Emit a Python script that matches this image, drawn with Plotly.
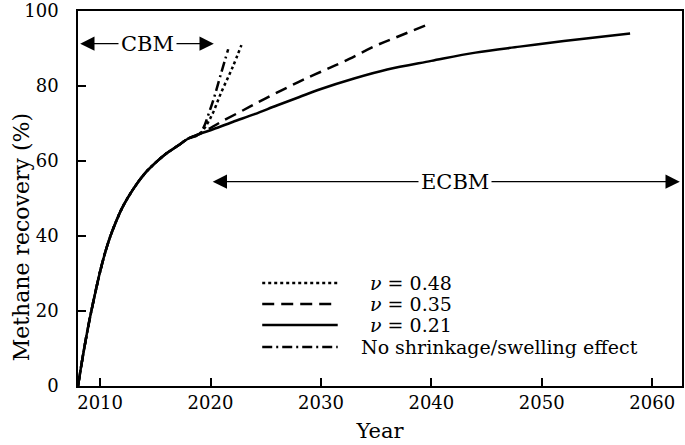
import plotly.graph_objects as go

# shared early production curve (all cases overlap up to ~2019)
base_years = [2008, 2008.5, 2009, 2009.5, 2010, 2010.5, 2011, 2012, 2013, 2014, 2015, 2016, 2017, 2018, 2019]
base_rec = [0, 9, 17, 24, 30.5, 36, 40.5, 47.5, 52.5, 56.5, 59.5, 62, 64, 66, 67.2]

# nu = 0.21 (solid)
yrs_021 = [2020, 2022, 2024, 2026, 2028, 2030, 2033, 2036, 2040, 2044, 2048, 2052, 2055, 2058]
rec_021 = [68.2, 70.4, 72.5, 74.8, 77, 79.2, 82, 84.4, 86.7, 88.9, 90.5, 92, 93, 94]

# nu = 0.35 (dashed)
yrs_035 = [2020, 2021, 2023, 2025, 2028, 2030, 2032, 2035, 2037, 2039.6]
rec_035 = [68.8, 70.5, 73.6, 76.7, 81.1, 83.8, 86.4, 90.8, 93.2, 96.3]

# nu = 0.48 (dotted)
yrs_048 = [2020, 2021, 2022, 2022.8]
rec_048 = [71.5, 78.5, 85, 90.9]

# no shrinkage/swelling (dash-dot)
yrs_nss = [2020, 2021, 2021.6]
rec_nss = [74, 83.8, 89.8]

series = [
    ("ν = 0.48", yrs_048, rec_048, "dot"),
    ("ν = 0.35", yrs_035, rec_035, "12px,7px"),
    ("ν = 0.21", yrs_021, rec_021, "solid"),
    ("No shrinkage/swelling effect", yrs_nss, rec_nss, "10px,4px,2px,4px"),
]

FONT = "DejaVu Serif"

fig = go.Figure()
for name, yy, rr, dash in series:
    fig.add_trace(go.Scatter(x=base_years + yy, y=base_rec + rr, mode="lines", name=name,
                             line=dict(color="black", width=2.5, dash=dash),
                             line_shape="spline", showlegend=False))

# hand-made legend (long line samples like the original)
leg_y = [0.275, 0.219, 0.163, 0.104]
labels = ["<i>ν</i> = 0.48", "<i>ν</i> = 0.35", "<i>ν</i> = 0.21", "No shrinkage/swelling effect"]
for (name, yy, rr, dash), ly, lab in zip(series, leg_y, labels):
    fig.add_shape(type="line", xref="paper", yref="paper", x0=0.305, x1=0.43, y0=ly, y1=ly,
                  line=dict(color="black", width=2.5, dash=dash))
    fig.add_annotation(xref="paper", yref="paper", x=0.48 if lab.startswith("<i>") else 0.466,
                       y=ly, text=lab, showarrow=False, xanchor="left", yanchor="middle",
                       font=dict(size=19, color="black", family=FONT))

# CBM / ECBM double arrows
def double_arrow(x_left, x_right, x_mid, y, label):
    for xe in (x_left, x_right):
        fig.add_annotation(x=xe, y=y, ax=x_mid, ay=y, axref="x", ayref="y", xref="x", yref="y",
                           text="", showarrow=True, arrowhead=2, arrowsize=2.2, arrowwidth=1.3,
                           arrowcolor="black")
    fig.add_annotation(x=x_mid, y=y, text=label, showarrow=False, bgcolor="white",
                       font=dict(size=21, color="black", family=FONT), borderpad=2)

double_arrow(2008.2, 2020.3, 2014.3, 91.3, "CBM")
double_arrow(2020.2, 2062.5, 2042.1, 54.5, "ECBM")

# y title as a rotated annotation (sits a bit lower than the axis centre, as in the original)
fig.add_annotation(xref="paper", yref="paper", x=-0.094, y=0.397, text="Methane recovery (%)",
                   textangle=-90, showarrow=False, xanchor="center", yanchor="middle",
                   font=dict(size=22, color="black", family=FONT))

fig.update_layout(
    width=685, height=445,
    margin=dict(l=78, r=3, t=11, b=59),
    paper_bgcolor="white", plot_bgcolor="white",
    font=dict(family=FONT, size=18, color="black"),
    xaxis=dict(range=[2008, 2062.7], tickvals=[2010, 2020, 2030, 2040, 2050, 2060],
               ticks="inside", ticklen=8, tickwidth=1.5, tickcolor="black",
               showline=True, linecolor="black", linewidth=1.5, mirror=True,
               showgrid=False, zeroline=False, automargin=False,
               ticklabeloverflow="allow", ticklabelstandoff=0,
               title=dict(text="Year", font=dict(size=21), standoff=11)),
    yaxis=dict(range=[0, 100], tickvals=[0, 20, 40, 60, 80, 100],
               ticks="inside", ticklen=8, tickwidth=1.5, tickcolor="black",
               showline=True, linecolor="black", linewidth=1.5, mirror=True,
               showgrid=False, zeroline=False, automargin=False,
               ticklabeloverflow="allow", ticklabelstandoff=14),
)

# drop the default page margin so the figure sits at the window's corner
fig.write_html("out.html", config={"displayModeBar": False},
               post_script="document.body.style.margin='0';")
